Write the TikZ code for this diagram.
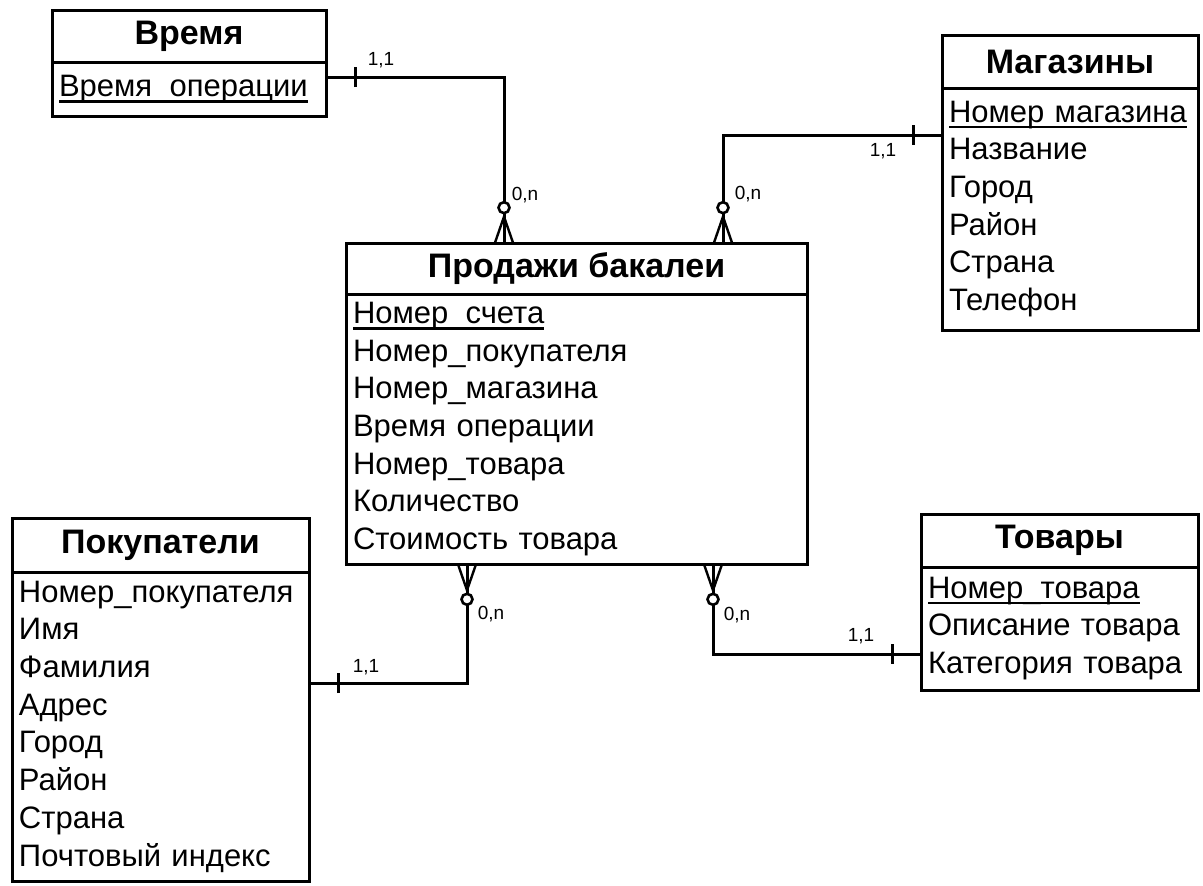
\documentclass[tikz,border=0pt]{standalone}
\usepackage{fontspec}
\setmainfont{Liberation Sans}
\usetikzlibrary{positioning,decorations.markings}

% key attribute: underline drawn at the height of the underscore
\newcommand{\keyattr}[1]{\setbox0\hbox{#1}\rlap{\rule[-0.2em]{\wd0}{0.07em}}\box0}

\begin{document}
\begin{tikzpicture}[
  x=1pt, y=-1pt,
  node distance=0pt,
  head/.style={rectangle, draw, line width=3pt, align=center, inner sep=0pt,
               outer sep=0pt, font=\fontsize{34}{38}\selectfont\bfseries},
  attrs/.style={rectangle, draw, line width=3pt, align=left, inner xsep=7pt,
                inner ysep=0pt, outer sep=0pt, font=\fontsize{31}{37.7}\selectfont},
  card/.style={inner sep=0pt, font=\fontsize{19}{22}\selectfont},
  rel/.style={line width=3pt, postaction={decorate, decoration={markings,
      mark=at position 29pt with {\draw[line width=3pt] (0pt,-10pt) -- (0pt,10pt);},
      mark=at position 0.999 with {
        \draw[line width=2.4pt] (0pt,9pt) -- (-26pt,0pt) -- (0pt,-9pt);
        \draw[line width=2.6pt, fill=white] (-35pt,0pt) circle (5.5pt);}}}}
]
\useasboundingbox (0,0) rectangle (1203,886);

\node[head, minimum width=274pt, minimum height=52pt, anchor=north west] (vh) at (52,10) {Время};
\node[attrs, text width=260pt, minimum height=54pt, below=of vh] (vb) {\keyattr{Время\_операции}};

\node[head, minimum width=461pt, minimum height=51pt, anchor=north west] (ph) at (346,243) {Продажи бакалеи};
\node[attrs, text width=447pt, minimum height=270pt, below=of ph] (pb)
  {\keyattr{Номер\_счета}\\Номер\_покупателя\\Номер\_магазина\\Время операции\\Номер\_товара\\Количество\\Стоимость товара};

\node[head, minimum width=256pt, minimum height=53pt, anchor=north west] (mh) at (942,35) {Магазины};
\node[attrs, text width=242pt, minimum height=242pt, below=of mh] (mb)
  {\keyattr{Номер магазина}\\Название\\Город\\Район\\Страна\\Телефон};

\node[head, minimum width=277pt, minimum height=53pt, anchor=north west] (th) at (921,514) {Товары};
\node[attrs, text width=263pt, minimum height=123pt, below=of th] (tb)
  {\keyattr{Номер\_товара}\\Описание товара\\Категория товара};

\node[head, minimum width=297pt, minimum height=54pt, anchor=north west] (kh) at (12,518) {Покупатели};
\node[attrs, text width=283pt, minimum height=309pt, below=of kh] (kb)
  {Номер\_покупателя\\Имя\\Фамилия\\Адрес\\Город\\Район\\Страна\\Почтовый индекс};

% relationships
\draw[rel] ([yshift=12pt]vb.east) -| ([xshift=-72.5pt]ph.north);
\draw[rel] ([yshift=74pt]mb.west) -| ([xshift=146.5pt]ph.north);
\draw[rel] ([yshift=43.5pt]kb.east) -| ([xshift=-109.5pt]pb.south);
\draw[rel] ([yshift=-25.5pt]tb.west) -| ([xshift=136.5pt]pb.south);

\node[card] (vone) at (381,60) {1,1};
\node[card] (vmany) at (525,195) {0,n};
\node[card] (mone) at (883,151) {1,1};
\node[card] (mmany) at (748,194) {0,n};
\node[card] (kone) at (366,667) {1,1};
\node[card] (kmany) at (491,614) {0,n};
\node[card] (tone) at (861,636) {1,1};
\node[card] (tmany) at (737,615) {0,n};
\end{tikzpicture}
\end{document}
